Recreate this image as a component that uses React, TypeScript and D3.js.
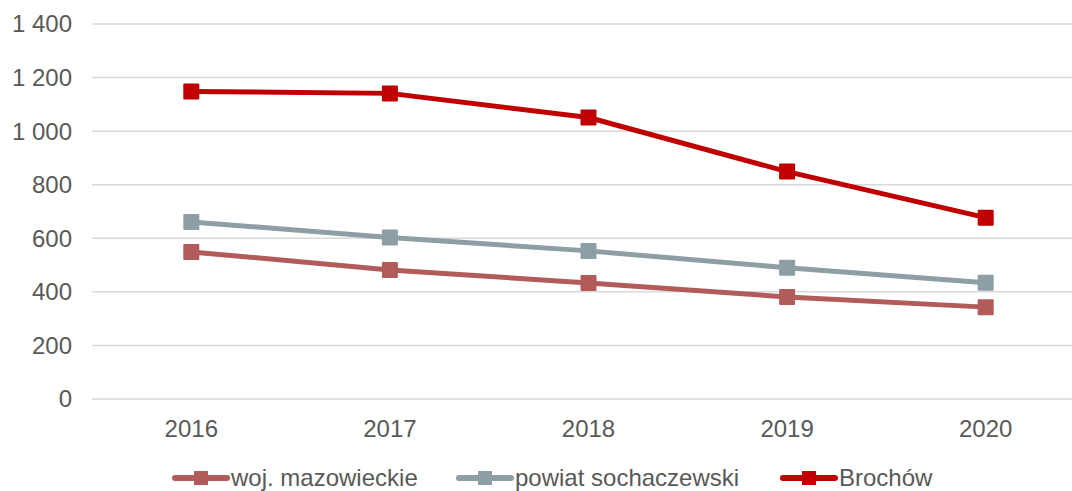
import React, { useRef, useEffect } from "react";
import * as d3 from "d3";

const years = ["2016", "2017", "2018", "2019", "2020"];
const wojMazowieckie = [549, 482, 433, 381, 343];
const powiatSochaczewski = [661, 603, 553, 490, 434];
const brochow = [1148, 1141, 1051, 849, 677];
const yTicks = [0, 200, 400, 600, 800, 1000, 1200, 1400];

const seriesNames = ["woj. mazowieckie", "powiat sochaczewski", "Brochów"];
const seriesColors = ["#B25B5B", "#8E9EA5", "#C00000"];

const fmt = (v: number) => d3.format(",")(v).replace(/,/g, " ");

const App = () => {
  const svgRef = useRef<SVGSVGElement>(null);

  useEffect(() => {
    if (!svgRef.current) return;
    const svg = d3.select(svgRef.current);
    svg.selectAll("*").remove();

    const width = 1072;
    const height = 491;
    const margin = { top: 24, right: -13, bottom: 92, left: 92 };
    const textColor = "#595959";
    const font = "'Liberation Sans', Arial, sans-serif";
    const fontSize = "24px";

    const x = d3
      .scaleBand()
      .domain(years)
      .range([margin.left, width - margin.right]);

    const y = d3
      .scaleLinear()
      .domain([0, 1400])
      .range([height - margin.bottom, margin.top]);

    // gridlines
    svg
      .append("g")
      .selectAll("line")
      .data(yTicks)
      .join("line")
      .attr("x1", margin.left)
      .attr("x2", width - margin.right)
      .attr("y1", (d) => y(d))
      .attr("y2", (d) => y(d))
      .attr("stroke", "#D9D9D9")
      .attr("stroke-width", 1.5);

    // y labels
    svg
      .append("g")
      .selectAll("text")
      .data(yTicks)
      .join("text")
      .attr("x", 72)
      .attr("y", (d) => y(d))
      .attr("dy", "0.35em")
      .attr("text-anchor", "end")
      .attr("fill", textColor)
      .style("font-family", font)
      .style("font-size", fontSize)
      .text((d) => fmt(d));

    // x labels
    svg
      .append("g")
      .selectAll("text")
      .data(years)
      .join("text")
      .attr("x", (d) => x(d)! + x.bandwidth() / 2)
      .attr("y", y(0) + 38)
      .attr("text-anchor", "middle")
      .attr("fill", textColor)
      .style("font-family", font)
      .style("font-size", fontSize)
      .text((d) => d);

    const allSeries = [wojMazowieckie, powiatSochaczewski, brochow];
    const cx = (i: number) => x(years[i])! + x.bandwidth() / 2;
    const line = d3
      .line<number>()
      .x((d, i) => cx(i))
      .y((d) => y(d));

    allSeries.forEach((values, s) => {
      const g = svg.append("g");
      g.append("path")
        .datum(values)
        .attr("d", line)
        .attr("fill", "none")
        .attr("stroke", seriesColors[s])
        .attr("stroke-width", 5)
        .attr("stroke-linejoin", "round")
        .attr("stroke-linecap", "round");
      g.selectAll("rect")
        .data(values)
        .join("rect")
        .attr("x", (d, i) => cx(i) - 8)
        .attr("y", (d) => y(d) - 8)
        .attr("width", 16)
        .attr("height", 16)
        .attr("rx", 1)
        .attr("fill", seriesColors[s]);
    });

    // legend
    const legendX = [175, 459, 783];
    const legendY = 478;
    const legend = svg.append("g");
    seriesNames.forEach((name, s) => {
      const lx = legendX[s];
      legend
        .append("line")
        .attr("x1", lx)
        .attr("x2", lx + 52)
        .attr("y1", legendY)
        .attr("y2", legendY)
        .attr("stroke", seriesColors[s])
        .attr("stroke-width", 6)
        .attr("stroke-linecap", "round");
      legend
        .append("rect")
        .attr("x", lx + 26 - 7)
        .attr("y", legendY - 7)
        .attr("width", 14)
        .attr("height", 14)
        .attr("fill", seriesColors[s]);
      legend
        .append("text")
        .attr("x", lx + 56)
        .attr("y", legendY)
        .attr("dy", "0.35em")
        .attr("fill", textColor)
        .style("font-family", font)
        .style("font-size", fontSize)
        .text(name);
    });
  }, []);

  return (
    <svg
      ref={svgRef}
      width={1072}
      height={491}
      style={{ position: "absolute", left: 0, top: 0, background: "#fff" }}
    ></svg>
  );
};

export default App;
